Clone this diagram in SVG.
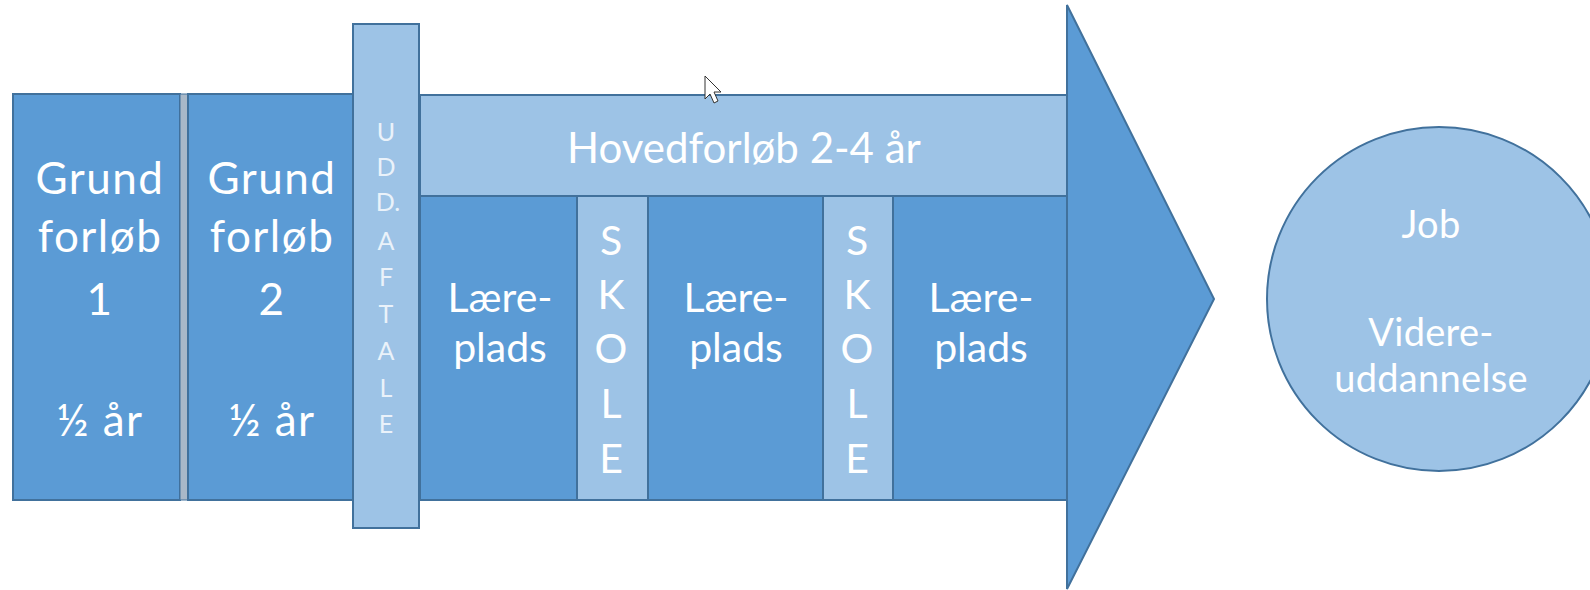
<svg xmlns="http://www.w3.org/2000/svg" width="1590" height="590" viewBox="0 0 1590 590">
<style>
.dk{fill:#5B9BD5;stroke:#41719C;stroke-width:2}
.lt{fill:#9DC3E6;stroke:#41719C;stroke-width:2}
.t{font-family:Lato,"Open Sans","Liberation Sans",sans-serif;fill:#FFFFFF;text-anchor:middle}
.big{font-size:44px;letter-spacing:1.5px}
.hov{font-size:42px}
.mid{font-size:41px}
.sm{font-size:25px;fill:#EAF2FA}
.cir{font-size:38px;letter-spacing:0.3px}
</style>
<rect width="1590" height="590" fill="#FFFFFF"/>
<g id="arrow">
<polygon class="dk" points="420,95 1067,95 1067,5 1214,299 1067,589 1067,500 420,500"/>
</g>
<g id="grund1">
<rect class="dk" x="13" y="94" width="167" height="406"/>
<text class="t big" x="100" y="194">Grund</text>
<text class="t big" x="100" y="252">forløb</text>
<text class="t big" x="100" y="315">1</text>
<text class="t big" x="100" y="436">½ år</text>
</g>
<rect id="divider" x="180" y="94" width="8" height="406" fill="#A9B8C8" stroke="#41719C" stroke-width="1"/>
<g id="grund2">
<rect class="dk" x="188" y="94" width="167" height="406"/>
<text class="t big" x="272" y="194">Grund</text>
<text class="t big" x="272" y="252">forløb</text>
<text class="t big" x="272" y="315">2</text>
<text class="t big" x="272" y="436">½ år</text>
</g>
<g id="hovedforloeb">
<rect class="lt" x="420" y="95" width="647" height="101"/>
<text class="t hov" x="744" y="163">Hovedforløb 2-4 år</text>
</g>
<g id="laereplads1">
<rect class="dk" x="420" y="196" width="157" height="304"/>
<text class="t mid" x="500" y="312">Lære-</text>
<text class="t mid" x="500" y="362">plads</text>
</g>
<g id="skole1">
<rect class="lt" x="577" y="196" width="71" height="304"/>
<text class="t mid" x="611" y="255">S</text>
<text class="t mid" x="611" y="309">K</text>
<text class="t mid" x="611" y="363">O</text>
<text class="t mid" x="611" y="418">L</text>
<text class="t mid" x="611" y="473">E</text>
</g>
<g id="laereplads2">
<rect class="dk" x="648" y="196" width="175" height="304"/>
<text class="t mid" x="736" y="312">Lære-</text>
<text class="t mid" x="736" y="362">plads</text>
</g>
<g id="skole2">
<rect class="lt" x="823" y="196" width="70" height="304"/>
<text class="t mid" x="857" y="255">S</text>
<text class="t mid" x="857" y="309">K</text>
<text class="t mid" x="857" y="363">O</text>
<text class="t mid" x="857" y="418">L</text>
<text class="t mid" x="857" y="473">E</text>
</g>
<g id="laereplads3">
<rect class="dk" x="893" y="196" width="174" height="304"/>
<text class="t mid" x="981" y="312">Lære-</text>
<text class="t mid" x="981" y="362">plads</text>
</g>
<g id="uddaftale">
<rect class="lt" x="353" y="24" width="66" height="504"/>
<text class="t sm" x="386" y="141">U</text>
<text class="t sm" x="386" y="176">D</text>
<text class="t sm" x="388" y="211">D.</text>
<text class="t sm" x="386" y="250">A</text>
<text class="t sm" x="386" y="286">F</text>
<text class="t sm" x="386" y="323">T</text>
<text class="t sm" x="386" y="360">A</text>
<text class="t sm" x="386" y="397">L</text>
<text class="t sm" x="386" y="433">E</text>
</g>
<g id="job">
<circle class="lt" cx="1439" cy="299" r="172"/>
<text class="t cir" x="1431" y="238">Job</text>
<text class="t cir" x="1431" y="346">Videre-</text>
<text class="t cir" x="1431" y="392">uddannelse</text>
</g>
<g id="connectors"></g>
<path id="cursor" d="M705,76 L705,99 L710,94 L714,103 L718,101 L714,92 L721,92 Z" fill="#FFFFFF" stroke="#333333" stroke-width="1"/>
</svg>
